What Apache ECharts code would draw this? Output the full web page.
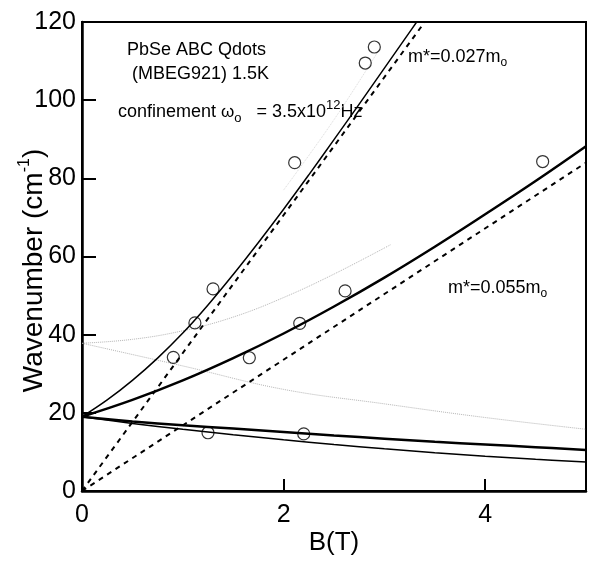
<!DOCTYPE html>
<html><head><meta charset="utf-8">
<script src="https://cdn.jsdelivr.net/npm/echarts@6/dist/echarts.min.js"></script>
<style>html,body{margin:0;padding:0;background:#fff}#c{width:592px;height:564px}</style>
</head><body><div id="c"></div>
<script>
// ---- data ----
const B_up027 = [0, 0.25, 0.5, 0.75, 1, 1.25, 1.5, 1.75, 2, 2.25, 2.5, 2.75, 3, 3.25, 3.32];
const W_up027 = [19, 23.3, 28.3, 34.0, 40.4, 47.6, 55.4, 63.6, 72.1, 80.9, 89.9, 99.0, 108.2, 117.4, 120];
const B_up055 = [0, 0.5, 1, 1.5, 2, 2.5, 3, 3.5, 4, 4.5, 5];
const W_up055 = [19, 23.3, 28.3, 34.0, 40.3, 47.2, 54.6, 62.5, 70.8, 79.3, 88.2];
const B_low = [0, 0.5, 1, 1.5, 2, 2.5, 3, 3.5, 4, 4.5, 5];
const W_lowThick = [19, 17.8, 16.8, 16, 15.1, 14.2, 13.4, 12.6, 11.9, 11.2, 10.5];
const W_lowThin = [19, 17.3, 15.8, 14.4, 13.1, 11.9, 10.8, 9.8, 8.9, 8.1, 7.4];
const B_cyc027 = [0, 3.4];
const W_cyc027 = [0, 120];
const B_cyc055 = [0, 5];
const W_cyc055 = [0, 84];
const B_dotUp = [0, 0.5, 1, 1.5, 2, 2.5, 3.06];
const W_dotUp = [37.8, 38.8, 41, 44.5, 49.5, 55.5, 63];
const B_dotDown = [0, 1, 2, 3, 4, 5];
const W_dotDown = [37.8, 32, 26, 22.3, 18.8, 15.8];
const B_dotTop = [2.0, 2.5, 2.95];
const W_dotTop = [77, 95, 113];
const B_meas = [0.906, 1.12, 1.30, 1.66, 1.25, 2.20, 2.16, 2.61, 2.11, 2.81, 2.90, 4.57];
const W_meas = [34.2, 43.0, 51.7, 34.1, 14.9, 14.6, 42.9, 51.2, 84.0, 109.5, 113.6, 84.3];
const xTicks = [0, 2, 4];
const yTicks = [0, 20, 40, 60, 80, 100, 120];

const pairs = (xs, ys) => xs.map((x, i) => [x, ys[i]]);
const F = "'Liberation Sans', Arial, Helvetica, sans-serif";
const chart = echarts.init(document.getElementById('c'), null, {renderer: 'canvas'});

function line(xs, ys, width, type, color, smooth) {
  return {type: 'line', data: pairs(xs, ys), symbol: 'none', smooth: smooth ? 0.4 : false,
    lineStyle: {color: color || '#000', width: width, type: type || 'solid'}, silent: true, z: 3};
}

const option = {
  animation: false,
  backgroundColor: '#fff',
  grid: {left: 82, right: 6, top: 22, bottom: 73, show: true, borderColor: '#000', borderWidth: 2,
    containLabel: false, outerBoundsMode: 'none'},
  xAxis: {
    type: 'value', min: 0, max: 5, interval: 2,
    name: 'B(T)', nameLocation: 'middle', nameGap: 39, nameMoveOverlap: false,
    nameTextStyle: {fontFamily: F, fontSize: 26, color: '#000'},
    axisLine: {show: true, onZero: false, lineStyle: {color: '#000', width: 2.5}},
    axisTick: {show: true, inside: true, length: 12, lineStyle: {color: '#000', width: 2}},
    axisLabel: {fontFamily: F, fontSize: 25, color: '#000', margin: 12,
      formatter: v => xTicks.indexOf(v) >= 0 ? String(v) : ''},
    splitLine: {show: false}
  },
  yAxis: {
    type: 'value', min: 0, max: 120, interval: 20,
    name: '{a|Wavenumber (cm}{s|-1}{a|)}', nameLocation: 'middle', nameGap: 31, nameMoveOverlap: false,
    nameTextStyle: {fontFamily: F, fontSize: 28, color: '#000', padding: [0, 28, 0, 0],
      rich: {a: {fontFamily: F, fontSize: 28, color: '#000', lineHeight: 34},
             s: {fontFamily: F, fontSize: 16, color: '#000', verticalAlign: 'top', lineHeight: 34}}},
    axisLine: {show: true, onZero: false, lineStyle: {color: '#000', width: 2.5}},
    axisTick: {show: true, inside: true, length: 14, lineStyle: {color: '#000', width: 2}},
    axisLabel: {fontFamily: F, fontSize: 25, color: '#000', margin: 6,
      formatter: v => yTicks.indexOf(v) >= 0 ? String(v) : ''},
    splitLine: {show: false}
  },
  series: [
    line(B_dotUp, W_dotUp, 1, 'dotted', '#b5b5b5', true),
    line(B_dotDown, W_dotDown, 1, 'dotted', '#b5b5b5', true),
    line(B_dotTop, W_dotTop, 1, 'dotted', '#dadada', true),
    line(B_cyc027, W_cyc027, 2, [5, 5], '#000', false),
    line(B_cyc055, W_cyc055, 2, [5, 5], '#000', false),
    line(B_up027, W_up027, 1.5, 'solid', '#000', true),
    line(B_up055, W_up055, 2.5, 'solid', '#000', true),
    line(B_low, W_lowThick, 2.5, 'solid', '#000', true),
    line(B_low, W_lowThin, 1.5, 'solid', '#000', true),
    {type: 'scatter', data: pairs(B_meas, W_meas), symbol: 'circle', symbolSize: 12,
      itemStyle: {color: 'rgba(255,255,255,0)', borderColor: '#000', borderWidth: 1.2}, z: 5, silent: true}
  ],
  graphic: [
    {type: 'text', x: 127, y: 50, style: {text: 'PbSe ABC Qdots', font: '18px ' + F, fill: '#000', verticalAlign: 'middle'}},
    {type: 'text', x: 132, y: 74, style: {text: '(MBEG921) 1.5K', font: '18px ' + F, fill: '#000', verticalAlign: 'middle'}},
    {type: 'text', x: 118, y: 112, style: {
      text: '{a|confinement }{w|ω}{o|o}{a| = 3.5x10}{p|12}{a|Hz}', verticalAlign: 'middle',
      rich: {a: {fontFamily: F, fontSize: 18, fill: '#000', lineHeight: 26},
             w: {fontFamily: F, fontSize: 17, fill: '#000', lineHeight: 26},
             o: {fontFamily: F, fontSize: 13, fill: '#000', lineHeight: 22, verticalAlign: 'bottom', padding: [0, 10, 0, 0]},
             p: {fontFamily: F, fontSize: 13, fill: '#000', lineHeight: 26, verticalAlign: 'top'}}}},
    {type: 'text', x: 408, y: 57, style: {
      text: '{a|m*=0.027m}{o|o}', verticalAlign: 'middle',
      rich: {a: {fontFamily: F, fontSize: 18, fill: '#000', lineHeight: 24},
             o: {fontFamily: F, fontSize: 12, fill: '#000', lineHeight: 20, verticalAlign: 'bottom'}}}},
    {type: 'text', x: 448, y: 288, style: {
      text: '{a|m*=0.055m}{o|o}', verticalAlign: 'middle',
      rich: {a: {fontFamily: F, fontSize: 18, fill: '#000', lineHeight: 24},
             o: {fontFamily: F, fontSize: 12, fill: '#000', lineHeight: 20, verticalAlign: 'bottom'}}}}
  ]
};
chart.setOption(option);
</script></body></html>
